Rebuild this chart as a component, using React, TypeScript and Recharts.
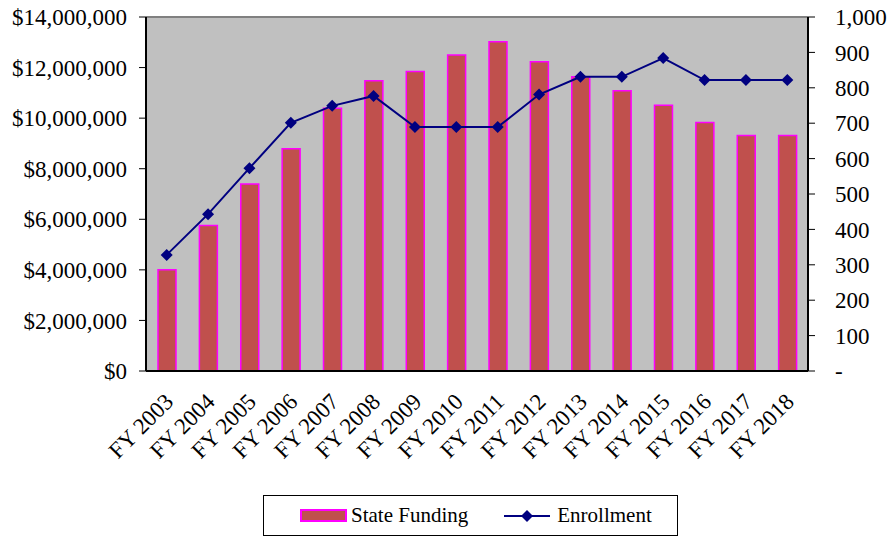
import React from 'react';
import { ComposedChart, Bar, Line, XAxis, YAxis, CartesianGrid } from 'recharts';

// values
const years = [
  'FY 2003', 'FY 2004', 'FY 2005', 'FY 2006', 'FY 2007', 'FY 2008', 'FY 2009', 'FY 2010',
  'FY 2011', 'FY 2012', 'FY 2013', 'FY 2014', 'FY 2015', 'FY 2016', 'FY 2017', 'FY 2018',
];
const stateFunding = [
  4000000, 5750000, 7400000, 8790000, 10390000, 11480000, 11840000, 12500000,
  13020000, 12230000, 11640000, 11080000, 10510000, 9830000, 9310000, 9310000,
];
const enrollment = [328, 443, 573, 701, 749, 777, 689, 689, 689, 781, 831, 831, 884, 822, 822, 822];

const fundingTicks = [0, 2000000, 4000000, 6000000, 8000000, 10000000, 12000000, 14000000];
const enrollmentTicks = [0, 100, 200, 300, 400, 500, 600, 700, 800, 900, 1000];
const boundaryTicks = Array.from({ length: years.length + 1 }, (_, i) => i);

const data = years.map((year, i) => ({
  year,
  funding: stateFunding[i],
  enrollment: enrollment[i],
  slot: i + 0.5,
}));

const FONT = '"Liberation Serif", "Times New Roman", serif';
const NAVY = '#000080';

const Diamond = (props: any) => {
  const { cx, cy, index } = props;
  if (cx == null || cy == null) return null;
  const r = 6;
  return (
    <path
      key={index}
      d={`M${cx},${cy - r}L${cx + r},${cy}L${cx},${cy + r}L${cx - r},${cy}Z`}
      fill={NAVY}
    />
  );
};

const YearTick = (props: any) => {
  const { x, y, payload } = props;
  const tx = x + 8;
  const ty = y + 24;
  return (
    <text
      x={tx}
      y={ty}
      transform={`rotate(-45, ${tx}, ${ty})`}
      textAnchor="end"
      fontSize={23}
      fontFamily={FONT}
      fill="#000"
    >
      {payload.value}
    </text>
  );
};

const LegendBox = () => (
  <div
    style={{
      position: 'absolute',
      left: 263,
      top: 495,
      width: 415,
      height: 41,
      border: '1px solid #000',
      boxSizing: 'border-box',
      display: 'flex',
      alignItems: 'center',
      fontFamily: FONT,
      fontSize: 21,
      color: '#000',
      background: '#fff',
    }}
  >
    <div style={{ width: 47, height: 13, marginLeft: 36, background: '#C0504D', border: '2px solid #FF00FF', boxSizing: 'border-box' }} />
    <span style={{ marginLeft: 4 }}>State Funding</span>
    <svg width={46} height={16} style={{ marginLeft: 36 }}>
      <line x1={0} y1={8} x2={46} y2={8} stroke={NAVY} strokeWidth={2} />
      <path d="M23,2L29,8L23,14L17,8Z" fill={NAVY} />
    </svg>
    <span style={{ marginLeft: 7 }}>Enrollment</span>
  </div>
);

export default function App() {
  return (
    <div style={{ position: 'absolute', left: 0, top: 0, width: 894, height: 539, background: '#fff', fontFamily: FONT }}>
      <ComposedChart
        width={894}
        height={539}
        data={data}
        margin={{ top: 17, right: 0, bottom: 0, left: 0 }}
        barCategoryGap={0}
      >
        <CartesianGrid
          fill="#C0C0C0"
          stroke="#808080"
          strokeWidth={2}
          vertical={false}
          horizontalCoordinatesGenerator={({ offset }: any) => [offset.top]}
        />
        <XAxis
          xAxisId="bounds"
          type="number"
          dataKey="slot"
          domain={[0, years.length]}
          ticks={boundaryTicks}
          tickFormatter={() => ''}
          height={0}
          axisLine={false}
          tickLine={{ stroke: '#000', strokeWidth: 1 }}
          tickSize={7}
        />
        <XAxis
          dataKey="year"
          interval={0}
          height={168}
          axisLine={{ stroke: '#000', strokeWidth: 2 }}
          tickLine={false}
          tick={<YearTick />}
        />
        <YAxis
          yAxisId="left"
          width={146}
          domain={[0, 14000000]}
          ticks={fundingTicks}
          interval={0}
          tickFormatter={(v: number) => '$' + v.toLocaleString('en-US')}
          axisLine={{ stroke: '#000', strokeWidth: 2 }}
          tickLine={{ stroke: '#000' }}
          tickSize={7}
          tickMargin={12}
          tick={{ fill: '#000', fontSize: 23, fontFamily: FONT }}
        />
        <YAxis
          yAxisId="right"
          orientation="right"
          width={86}
          domain={[0, 1000]}
          ticks={enrollmentTicks}
          interval={0}
          tickFormatter={(v: number) => (v === 0 ? '-' : v.toLocaleString('en-US'))}
          axisLine={{ stroke: '#000', strokeWidth: 2 }}
          tickLine={{ stroke: '#000' }}
          tickSize={7}
          tickMargin={20}
          tick={{ fill: '#000', fontSize: 23, fontFamily: FONT }}
        />
        <Bar
          yAxisId="left"
          dataKey="funding"
          name="State Funding"
          barSize={18}
          fill="#C0504D"
          stroke="#FF00FF"
          strokeWidth={1.5}
          isAnimationActive={false}
        />
        <Line
          yAxisId="right"
          dataKey="enrollment"
          name="Enrollment"
          type="linear"
          stroke={NAVY}
          strokeWidth={2}
          dot={<Diamond />}
          activeDot={false}
          isAnimationActive={false}
        />
      </ComposedChart>
      <LegendBox />
    </div>
  );
}
